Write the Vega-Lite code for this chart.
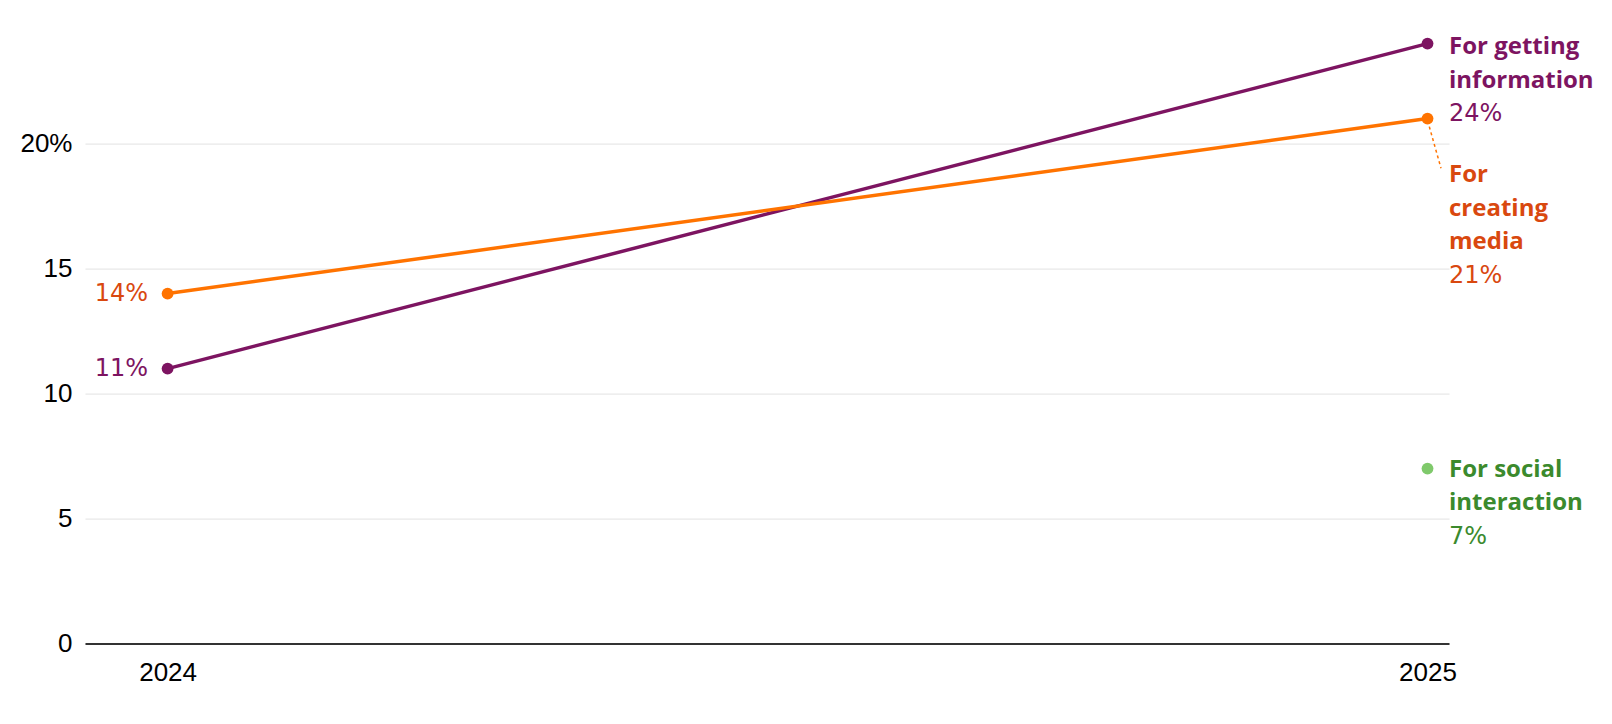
{
  "$schema": "https://vega.github.io/schema/vega-lite/v6.json",
  "width": 1364,
  "height": 625,
  "autosize": "none",
  "padding": {"left": 85, "top": 18.6, "right": 163, "bottom": 80.4},
  "background": "#ffffff",
  "config": {"view": {"stroke": null}},
  "data": {
    "values": [
      {"series": "For getting information", "label": "For getting\ninformation", "year": 2024, "value": 11},
      {"series": "For getting information", "label": "For getting\ninformation", "year": 2025, "value": 24},
      {"series": "For creating media", "label": "For\ncreating\nmedia", "year": 2024, "value": 14},
      {"series": "For creating media", "label": "For\ncreating\nmedia", "year": 2025, "value": 21},
      {"series": "For social interaction", "label": "For social\ninteraction", "year": 2025, "value": 7}
    ]
  },
  "transform": [{"calculate": "datum.value + '%'", "as": "pct"}],
  "encoding": {
    "x": {
      "field": "year", "type": "quantitative",
      "scale": {"domain": [2023.93444, 2025.01706], "nice": false, "zero": false},
      "axis": {
        "values": [2024, 2025], "format": "d", "title": null, "grid": false, "ticks": false,
        "domain": true, "domainColor": "#333333", "domainWidth": 2,
        "labelFont": "Liberation Sans", "labelFontSize": 26, "labelColor": "#000000",
        "labelPadding": 16, "labelFlush": false
      }
    },
    "y": {
      "field": "value", "type": "quantitative",
      "scale": {"domain": [0, 25], "nice": false},
      "axis": {
        "values": [0, 5, 10, 15, 20], "title": null, "grid": true, "gridColor": "#e2e2e2", "gridWidth": 1,
        "ticks": false, "domain": false,
        "labelExpr": "datum.value == 20 ? '20%' : datum.label",
        "labelFont": "Liberation Sans", "labelFontSize": 26, "labelColor": "#000000",
        "labelPadding": 13
      }
    }
  },
  "layer": [
    {
      "transform": [{"filter": "datum.series != 'For social interaction'"}],
      "mark": {"type": "line", "strokeWidth": 3.5},
      "encoding": {
        "color": {
          "field": "series", "type": "nominal", "legend": null,
          "scale": {"domain": ["For getting information", "For creating media", "For social interaction"], "range": ["#7d1461", "#ff7300", "#7fc96b"]}
        }
      }
    },
    {
      "transform": [{"filter": "datum.series == 'For creating media' && datum.year == 2025"}],
      "mark": {"type": "rule", "strokeDash": [3, 3], "color": "#ff7300", "strokeWidth": 1.5, "xOffset": 1.8, "yOffset": 8, "x2Offset": 13.5, "y2Offset": 49.7},
      "encoding": {"x2": {"field": "year"}, "y2": {"field": "value"}}
    },
    {
      "mark": {"type": "circle", "opacity": 1, "size": 140},
      "encoding": {
        "color": {
          "field": "series", "type": "nominal", "legend": null,
          "scale": {"domain": ["For getting information", "For creating media", "For social interaction"], "range": ["#7d1461", "#ff7300", "#7fc96b"]}
        }
      }
    },
    {
      "transform": [{"filter": "datum.series == 'For getting information' && datum.year == 2024"}],
      "mark": {"type": "text", "align": "right", "baseline": "alphabetic", "dx": -19.5, "dy": 7.5, "font": "DejaVu Sans", "fontSize": 24, "color": "#7d1461"},
      "encoding": {"text": {"field": "pct"}}
    },
    {
      "transform": [{"filter": "datum.series == 'For creating media' && datum.year == 2024"}],
      "mark": {"type": "text", "align": "right", "baseline": "alphabetic", "dx": -19.5, "dy": 7.5, "font": "DejaVu Sans", "fontSize": 24, "color": "#d9480f"},
      "encoding": {"text": {"field": "pct"}}
    },
    {
      "transform": [{"filter": "datum.series == 'For getting information' && datum.year == 2025"}],
      "mark": {"type": "text", "align": "left", "baseline": "alphabetic", "dx": 21.5, "dy": 10.4, "lineBreak": "\n", "lineHeight": 33.5, "font": "Open Sans", "fontWeight": "bold", "fontSize": 24, "color": "#7d1461"},
      "encoding": {"text": {"field": "label"}}
    },
    {
      "transform": [{"filter": "datum.series == 'For getting information' && datum.year == 2025"}],
      "mark": {"type": "text", "align": "left", "baseline": "alphabetic", "dx": 21.5, "dy": 77.4, "font": "DejaVu Sans", "fontSize": 24, "color": "#7d1461"},
      "encoding": {"text": {"field": "pct"}}
    },
    {
      "transform": [{"filter": "datum.series == 'For creating media' && datum.year == 2025"}],
      "mark": {"type": "text", "align": "left", "baseline": "alphabetic", "dx": 21.5, "dy": 63.7, "lineBreak": "\n", "lineHeight": 33.5, "font": "Open Sans", "fontWeight": "bold", "fontSize": 24, "color": "#d9480f"},
      "encoding": {"text": {"field": "label"}}
    },
    {
      "transform": [{"filter": "datum.series == 'For creating media' && datum.year == 2025"}],
      "mark": {"type": "text", "align": "left", "baseline": "alphabetic", "dx": 21.5, "dy": 164.4, "font": "DejaVu Sans", "fontSize": 24, "color": "#d9480f"},
      "encoding": {"text": {"field": "pct"}}
    },
    {
      "transform": [{"filter": "datum.series == 'For social interaction'"}],
      "mark": {"type": "text", "align": "left", "baseline": "alphabetic", "dx": 21.5, "dy": 8.1, "lineBreak": "\n", "lineHeight": 33.5, "font": "Open Sans", "fontWeight": "bold", "fontSize": 24, "color": "#3b8a2d"},
      "encoding": {"text": {"field": "label"}}
    },
    {
      "transform": [{"filter": "datum.series == 'For social interaction'"}],
      "mark": {"type": "text", "align": "left", "baseline": "alphabetic", "dx": 21.5, "dy": 75.1, "font": "DejaVu Sans", "fontSize": 24, "color": "#3b8a2d"},
      "encoding": {"text": {"field": "pct"}}
    }
  ]
}
